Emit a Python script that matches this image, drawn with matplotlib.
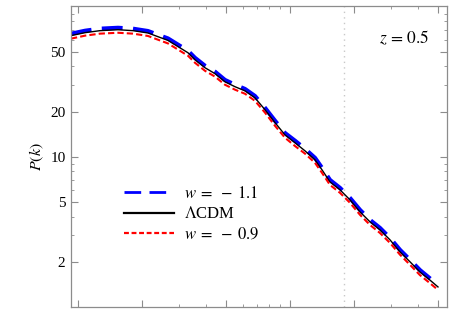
import matplotlib
matplotlib.use("Agg")
import matplotlib.pyplot as plt
from matplotlib.ticker import FixedLocator, NullFormatter, FixedFormatter

plt.rcParams['font.family'] = ['Liberation Serif', 'DejaVu Serif']
plt.rcParams['mathtext.fontset'] = 'stix'

k = [0.00927, 0.0108, 0.0127, 0.01544, 0.01817, 0.02138, 0.02658, 0.03303, 0.03564,
     0.03972, 0.04429, 0.04935, 0.05503, 0.06134, 0.06838, 0.07621, 0.08496, 0.0947,
     0.1056, 0.1177, 0.1312, 0.1416, 0.1544, 0.1721, 0.1919, 0.2139, 0.2384, 0.2658,
     0.2963, 0.3303, 0.3681, 0.4104, 0.4575, 0.4990]
p_lcdm = [64.1, 67.1, 69.2, 70.2, 69.2, 66.8, 59.6, 49.3, 44.3, 39.2, 35.8, 31.6, 29.3,
          27.5, 24.7, 20.6, 16.9, 14.0, 12.4, 10.96, 9.55, 8.19, 6.81, 6.03, 5.17, 4.30,
          3.69, 3.26, 2.80, 2.33, 2.0, 1.71, 1.51, 1.36]
p_w11 = [66.0, 69.1, 71.3, 72.3, 71.3, 68.8, 61.4, 50.8, 45.6, 40.4, 36.9, 32.5, 30.2,
         28.3, 25.4, 21.2, 17.4, 14.4, 12.8, 11.3, 9.84, 8.44, 7.01, 6.21, 5.32, 4.43,
         3.80, 3.36, 2.88, 2.40, 2.06, 1.76, 1.55, 1.39]
p_w09 = [61.2, 64.1, 66.1, 67.0, 66.1, 63.8, 56.9, 47.1, 42.3, 37.4, 34.2, 30.2, 28.0,
         26.3, 23.6, 19.7, 16.1, 13.4, 11.8, 10.5, 9.12, 7.82, 6.50, 5.76, 4.94, 4.11,
         3.52, 3.11, 2.67, 2.23, 1.91, 1.63, 1.44, 1.30]

k_nl = 0.18
y_major = [2, 5, 10, 20, 50]
y_labels = ['2', '5', '10', '20', '50']
y_minor = [3, 4, 6, 7, 8, 9, 30, 40, 60, 70, 80, 90]
x_major = [0.01, 0.02, 0.05, 0.1, 0.2, 0.5]
x_minor = [0.03, 0.04, 0.06, 0.07, 0.08, 0.09, 0.3, 0.4]

fig = plt.figure(figsize=(4.54, 3.09), dpi=100)
ax = fig.add_axes([71/454, 2/309, 376/454, 301/309])
ax.set_xscale('log')
ax.set_yscale('log')

ax.axvline(k_nl, color='#c8c8c8', linestyle=(0, (1, 3)), linewidth=1.0)
ax.plot(k, p_w11, color='#0000ff', linestyle=(0, (5, 2.5)), linewidth=3.0,
        label=r'$w\;=\;-\;1.1$')
ax.plot(k, p_lcdm, color='black', linestyle='-', linewidth=1.0, label=r'$\Lambda$CDM')
ax.plot(k, p_w09, color='#ff0000', linestyle=(0, (3, 1.5)), linewidth=1.5,
        label=r'$w\;=\;-\;0.9$')

ax.set_xlim(0.00927, 0.5503)
ax.set_ylim(1.0, 101)

ax.xaxis.set_major_locator(FixedLocator(x_major))
ax.xaxis.set_minor_locator(FixedLocator(x_minor))
ax.xaxis.set_major_formatter(NullFormatter())
ax.xaxis.set_minor_formatter(NullFormatter())
ax.yaxis.set_major_locator(FixedLocator(y_major))
ax.yaxis.set_major_formatter(FixedFormatter(y_labels))
ax.yaxis.set_minor_locator(FixedLocator(y_minor))
ax.yaxis.set_minor_formatter(NullFormatter())

gray = '#8c8c8c'
for s in ax.spines.values():
    s.set_color(gray)
    s.set_linewidth(0.9)
ax.tick_params(which='both', direction='in', top=True, right=True, color=gray,
               labelsize=11, labelcolor='black')
ax.tick_params(which='major', length=5, width=0.8, pad=4)
ax.tick_params(which='minor', length=2.5, width=0.6)

ax.set_ylabel(r'$P(k)$', fontsize=11.5, labelpad=3)
ax.text(0.82, 0.875, r'$z\,=\,0.5$', transform=ax.transAxes, fontsize=12.5)

leg = ax.legend(loc='upper left', bbox_to_anchor=(0.11, 0.44), frameon=False,
                fontsize=12, handlelength=3.0, handletextpad=0.6, labelspacing=0.25,
                borderpad=0.2)
lines = leg.get_lines()
lines[0].set_linewidth(2.0)
lines[0].set_linestyle((0, (6, 3)))
lines[1].set_linewidth(1.6)
lines[2].set_linewidth(1.6)
lines[2].set_linestyle((0, (2.2, 1.2)))

fig.savefig('out.png', dpi=100)
